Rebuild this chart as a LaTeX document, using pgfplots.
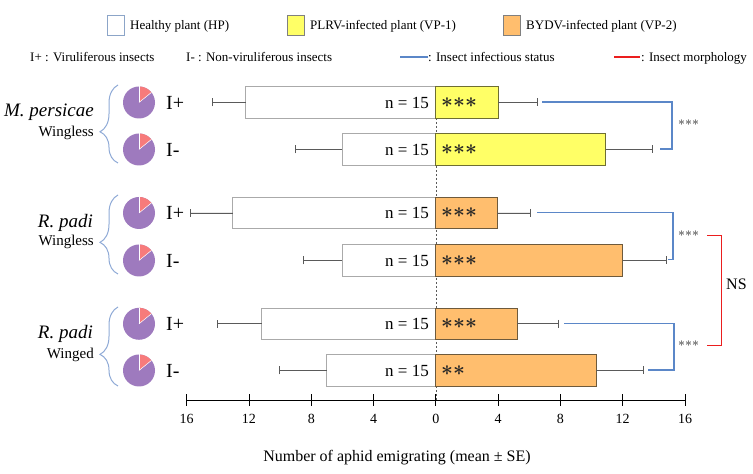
\documentclass[border=0pt]{standalone}
\usepackage{pgfplots}
\pgfplotsset{compat=1.18}
\usepackage{fontspec}
\setmainfont{Liberation Serif}
\usetikzlibrary{decorations.pathreplacing}
\definecolor{yel}{RGB}{255,255,102}
\definecolor{yelb}{RGB}{110,110,50}
\definecolor{org}{RGB}{255,190,110}
\definecolor{orgb}{RGB}{110,90,60}
\definecolor{hpb}{RGB}{170,170,170}
\definecolor{pur}{RGB}{158,122,190}
\definecolor{pnk}{RGB}{247,123,123}
\definecolor{brc}{RGB}{143,170,214}
\definecolor{bl}{RGB}{91,135,200}
\definecolor{rd}{RGB}{235,30,30}
\definecolor{errc}{RGB}{90,90,90}
\definecolor{legb}{RGB}{140,165,200}
\definecolor{sig}{RGB}{95,95,95}
\begin{document}
\begin{tikzpicture}
\path[use as bounding box] (0,0) rectangle (753pt,474pt);
\begin{axis}[
  at={(186.7pt,74pt)}, anchor=south west,
  scale only axis, width=498.3pt, height=400pt,
  xmin=-16, xmax=16, ymin=74, ymax=474,
  axis x line=bottom, axis y line=none,
  x axis line style={-, black, line width=0.8pt},
  xtick={-16,-12,...,16}, xticklabels={16,12,8,4,0,4,8,12,16},
  major tick length=12pt, tick align=center,
  tick style={black, line width=0.8pt},
  xticklabel style={font=\fontsize{14}{14}\selectfont, yshift=-5pt},
  /pgf/number format/assume math mode=true,
  clip=false,
]
\draw[errc, dash pattern=on 2pt off 2pt, line width=0.6pt] (axis cs:0,388) -- (axis cs:0,74);
% healthy plant (left)
\addplot[xbar, bar width=31.5, bar shift=0pt, fill=white, draw=hpb, line width=0.8pt,
  error bars/.cd, x dir=minus, x explicit, error mark=|,
  error bar style={errc, line width=0.8pt},
  error mark options={errc, line width=0.8pt, mark size=4pt}]
coordinates {
(-12.22,371.5) +- (2.14,0)
(-6.03,324.5) +- (3.01,0)
(-13.04,261) +- (2.73,0)
(-6.03,213.5) +- (2.46,0)
(-11.18,150.2) +- (2.82,0)
(-7.01,103.5) +- (3.03,0)
};
% PLRV (right)
\addplot[xbar, bar width=31.5, bar shift=0pt, fill=yel, draw=yelb, line width=0.8pt,
  error bars/.cd, x dir=plus, x explicit, error mark=|,
  error bar style={errc, line width=0.8pt},
  error mark options={errc, line width=0.8pt, mark size=4pt}]
coordinates {
(4.01,371.5) +- (2.50,0)
(10.90,324.5) +- (3.00,0)
};
% BYDV (right)
\addplot[xbar, bar width=31.5, bar shift=0pt, fill=org, draw=orgb, line width=0.8pt,
  error bars/.cd, x dir=plus, x explicit, error mark=|,
  error bar style={errc, line width=0.8pt},
  error mark options={errc, line width=0.8pt, mark size=4pt}]
coordinates {
(3.95,261) +- (2.14,0)
(11.99,213.5) +- (2.81,0)
(5.23,150.2) +- (2.67,0)
(10.30,103.5) +- (3.00,0)
};
\end{axis}
\begin{scope}[x=1pt, y=-1pt, yshift=474pt]
% legend row 1
\draw[legb, line width=0.8pt, fill=white] (107,15) rectangle (124,35);
\node[anchor=base west, inner sep=0pt, font=\fontsize{13}{13}\selectfont] at (130,29.5) {Healthy plant (HP)};
\draw[gray, line width=0.8pt, fill=yel] (287,15) rectangle (304,35);
\node[anchor=base west, inner sep=0pt, font=\fontsize{13}{13}\selectfont] at (310,29.5) {PLRV-infected plant (VP-1)};
\draw[gray, line width=0.8pt, fill=org] (503,15) rectangle (520,35);
\node[anchor=base west, inner sep=0pt, font=\fontsize{13}{13}\selectfont] at (526,29.5) {BYDV-infected plant (VP-2)};
% legend row 2
\node[anchor=base west, inner sep=0pt, font=\fontsize{13}{13}\selectfont] at (30,61.5) {I+ : Viruliferous insects};
\node[anchor=base west, inner sep=0pt, font=\fontsize{13}{13}\selectfont] at (186,61.5) {I- : Non-viruliferous insects};
\draw[bl, line width=1.8pt] (400,57) -- (428,57);
\node[anchor=base west, inner sep=0pt, font=\fontsize{13}{13}\selectfont] at (428,61.5) {: Insect infectious status};
\draw[rd, line width=1.8pt] (614,57) -- (640,57);
\node[anchor=base west, inner sep=0pt, font=\fontsize{13}{13}\selectfont] at (641,61.5) {: Insect morphology};
% species labels
\node[anchor=base east, inner sep=0pt, font=\fontsize{19}{19}\selectfont\itshape] at (94,117) {M. persicae};
\node[anchor=base east, inner sep=0pt, font=\fontsize{15}{15}\selectfont] at (94,136.5) {Wingless};
\node[anchor=base east, inner sep=0pt, font=\fontsize{19}{19}\selectfont\itshape] at (93,228) {R. padi};
\node[anchor=base east, inner sep=0pt, font=\fontsize{15}{15}\selectfont] at (94,246) {Wingless};
\node[anchor=base east, inner sep=0pt, font=\fontsize{19}{19}\selectfont\itshape] at (93,339) {R. padi};
\node[anchor=base east, inner sep=0pt, font=\fontsize{15}{15}\selectfont] at (94,359) {Winged};
% braces
\draw[brc, line width=1pt, decorate, decoration={brace, amplitude=18pt, aspect=0.4}] (118,163) -- (118,85);
\draw[brc, line width=1pt, decorate, decoration={brace, amplitude=18pt, aspect=0.4}] (118,274) -- (118,195);
\draw[brc, line width=1pt, decorate, decoration={brace, amplitude=18pt, aspect=0.4}] (118,386) -- (118,307);
% pies and I labels
\foreach \yy/\lab in {102.5/I+,149.5/I-,213/I+,260.5/I-,323.8/I+,370.5/I-} {
  \fill[pur] (139,\yy) circle (16pt);
  \fill[pnk] (139,\yy) -- ++(90:16pt) arc[start angle=90, end angle=39, radius=16pt] -- cycle;
  \draw[white, line width=0.5pt] (139,\yy) -- ++(90:16pt);
  \draw[white, line width=0.5pt] (139,\yy) -- ++(39:16pt);
  \node[anchor=west, inner sep=0pt, font=\fontsize{20}{20}\selectfont] at (166,\yy) {\lab};
  \node[anchor=east, inner sep=0pt, font=\fontsize{17}{17}\selectfont] at (429,\yy) {n = 15};
}
% asterisks in bars
\foreach \yy in {102.5,149.5,213,260.5,323.8} {
  \node[anchor=west, inner sep=0pt, text=black!85, font=\fontsize{21}{21}\selectfont\boldmath] at (441,\yy) {${\ast}{\ast}{\ast}$};
}
\node[anchor=west, inner sep=0pt, text=black!85, font=\fontsize{21}{21}\selectfont\boldmath] at (441,370.5) {${\ast}{\ast}$};
% blue brackets
\draw[bl, line width=1.6pt] (542,102) -- (672,102) -- (672,149) -- (660,149);
\draw[bl, line width=1.6pt] (537,212.5) -- (673,212.5) -- (673,259.5) -- (668,259.5);
\draw[bl, line width=1.6pt] (564,323.5) -- (674,323.5) -- (674,370) -- (648,370);
\foreach \yy in {123,234,344} {
  \node[anchor=west, inner sep=0pt, text=sig, font=\fontsize{13}{13}\selectfont\boldmath] at (678,\yy) {${\ast}{\ast}{\ast}$};
}
% red bracket
\draw[rd, line width=1.6pt] (707,235.5) -- (721.5,235.5) -- (721.5,345.5) -- (707,345.5);
\node[anchor=west, inner sep=0pt, font=\fontsize{16}{16}\selectfont] at (726,284) {NS};
% x label
\node[inner sep=0pt, font=\fontsize{16}{16}\selectfont] at (397,458) {Number of aphid emigrating (mean ± SE)};
\end{scope}
\end{tikzpicture}
\end{document}
